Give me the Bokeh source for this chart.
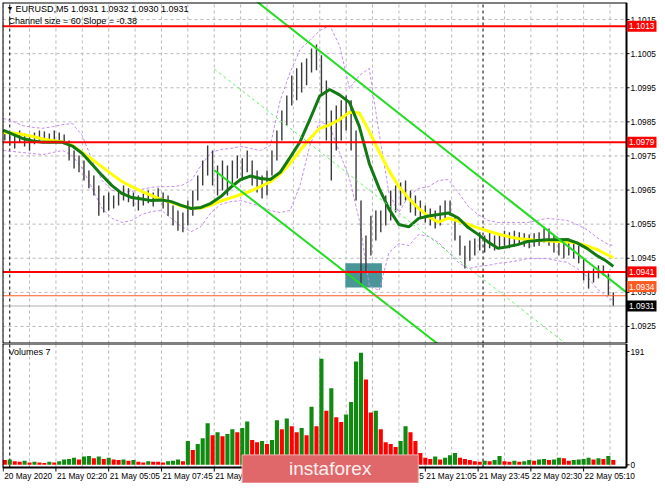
from bokeh.plotting import figure
from bokeh.layouts import column
from bokeh.models import Range1d, Label
from bokeh.core.properties import value
from bokeh.embed import file_html
from bokeh.resources import INLINE

FONT = "Liberation Sans"

# ---------------- data ----------------
bar_idx = list(range(1, 372, 3))  # one entry per 3 five-minute bars
highs = [1.09825, 1.09819, 1.09810, 1.09825, 1.09816, 1.09807, 1.09819, 1.09825, 1.09822, 1.09816, 1.09825, 1.09819, 1.09813,
         1.09795, 1.09766, 1.09751, 1.09737, 1.09707, 1.09693, 1.09663,
         1.09634, 1.09643, 1.09634, 1.09649, 1.09663, 1.09655, 1.09643, 1.09634, 1.09640, 1.09649, 1.09643, 1.09655, 1.09643, 1.09634,
         1.09605, 1.09590, 1.09584, 1.09619, 1.09649, 1.09693, 1.09737, 1.09781, 1.09766,
         1.09722, 1.09737, 1.09722, 1.09737, 1.09751, 1.09743, 1.09766, 1.09737, 1.09707, 1.09693, 1.09707,
         1.09766, 1.09825, 1.09883, 1.09927, 1.09986, 1.10007, 1.10024, 1.10036, 1.10065, 1.10077,
         1.10045, 1.09971, 1.09883, 1.09898, 1.09913, 1.09927, 1.09913, 1.09825, 1.09619,
         1.09517, 1.09575, 1.09590, 1.09590, 1.09634, 1.09649, 1.09663, 1.09672, 1.09678,
         1.09649, 1.09634, 1.09619, 1.09605, 1.09596, 1.09590, 1.09605, 1.09619, 1.09619,
         1.09575, 1.09517, 1.09487, 1.09502, 1.09508, 1.09526, 1.09517, 1.09526, 1.09517,
         1.09523, 1.09531, 1.09526, 1.09531, 1.09526, 1.09523, 1.09520, 1.09523, 1.09526, 1.09537, 1.09537,
         1.09517, 1.09508, 1.09502, 1.09508, 1.09502, 1.09487, 1.09449, 1.09414, 1.09420, 1.09429, 1.09429, 1.09405, 1.09350]
lows = [1.09795, 1.09781, 1.09772, 1.09790, 1.09778, 1.09766, 1.09784, 1.09795, 1.09792, 1.09787, 1.09795, 1.09790, 1.09784,
        1.09737, 1.09713, 1.09702, 1.09678, 1.09655, 1.09634, 1.09575,
        1.09584, 1.09590, 1.09596, 1.09605, 1.09619, 1.09614, 1.09602, 1.09590, 1.09605, 1.09611, 1.09602, 1.09619, 1.09596, 1.09575,
        1.09546, 1.09531, 1.09526, 1.09546, 1.09575, 1.09619, 1.09663, 1.09693, 1.09663,
        1.09634, 1.09649, 1.09634, 1.09663, 1.09684, 1.09678, 1.09702, 1.09663, 1.09643, 1.09625, 1.09634,
        1.09693, 1.09737, 1.09795, 1.09839, 1.09898, 1.09913, 1.09936, 1.09957, 1.09995, 1.10001,
        1.09927, 1.09795, 1.09678, 1.09766, 1.09795, 1.09825, 1.09766, 1.09619, 1.09370,
        1.09408, 1.09458, 1.09502, 1.09526, 1.09546, 1.09561, 1.09584, 1.09605, 1.09619,
        1.09584, 1.09575, 1.09567, 1.09555, 1.09546, 1.09537, 1.09546, 1.09561, 1.09575,
        1.09502, 1.09458, 1.09420, 1.09443, 1.09458, 1.09473, 1.09467, 1.09479, 1.09473,
        1.09479, 1.09487, 1.09479, 1.09484, 1.09490, 1.09484, 1.09479, 1.09484, 1.09487, 1.09496, 1.09487,
        1.09467, 1.09458, 1.09449, 1.09458, 1.09449, 1.09435, 1.09385, 1.09361, 1.09379, 1.09391, 1.09399, 1.09341, 1.09309]
volumes = [8, 9, 6, 5, 7, 4, 5, 4, 3, 5, 4, 6, 9,
           10, 12, 9, 14, 15, 11, 14,
           10, 12, 9, 8, 9, 7, 8, 5, 4, 6, 5, 5, 4, 6,
           7, 9, 6,
           40, 25, 35, 45, 70, 50, 55, 48, 52, 60, 55, 62, 73, 42, 38, 40, 35,
           42, 75, 60, 78, 65, 55, 62, 50, 98, 65,
           179, 91, 129, 80, 72, 85, 106, 174, 189, 144,
           88, 91, 60, 38, 35, 30, 40, 65, 55, 40,
           20, 12, 10, 14, 9, 12, 16, 20, 12, 10, 8, 6, 5, 7, 6, 8,
           15, 6, 5, 7, 5, 6, 8, 7, 9, 10, 8, 9, 12, 11, 7, 8, 9, 10, 12, 9, 11, 10, 15, 8]

ma_idx = list(range(0, 367, 6)) + [370]
ma_yellow = [1.09819, 1.09817, 1.09813, 1.09807, 1.09800, 1.09795, 1.09791, 1.09781, 1.09760, 1.09740,
             1.09718, 1.09696, 1.09675, 1.09660, 1.09646, 1.09634, 1.09622, 1.09614, 1.09603, 1.09596,
             1.09597, 1.09605, 1.09618, 1.09627, 1.09637, 1.09647, 1.09660, 1.09674, 1.09697, 1.09728,
             1.09766, 1.09801, 1.09831, 1.09841, 1.09857, 1.09878, 1.09876, 1.09822, 1.09763, 1.09707,
             1.09660, 1.09625, 1.09596, 1.09572, 1.09556, 1.09568, 1.09559, 1.09549, 1.09539, 1.09530,
             1.09521, 1.09514, 1.09508, 1.09505, 1.09502, 1.09501, 1.09499, 1.09498, 1.09495, 1.09486,
             1.09476, 1.09461, 1.09452]
ma_green = [1.09826, 1.09813, 1.09801, 1.09794, 1.09790, 1.09790, 1.09790, 1.09779, 1.09757, 1.09725,
            1.09693, 1.09663, 1.09640, 1.09628, 1.09624, 1.09619, 1.09621, 1.09616, 1.09605, 1.09596,
            1.09599, 1.09611, 1.09631, 1.09658, 1.09681, 1.09691, 1.09684, 1.09681, 1.09702, 1.09746,
            1.09791, 1.09857, 1.09926, 1.09945, 1.09929, 1.09907, 1.09836, 1.09728, 1.09655, 1.09594,
            1.09549, 1.09542, 1.09567, 1.09574, 1.09578, 1.09583, 1.09568, 1.09540, 1.09520, 1.09498,
            1.09479, 1.09484, 1.09490, 1.09499, 1.09502, 1.09504, 1.09504, 1.09505, 1.09495, 1.09479,
            1.09458, 1.09441, 1.09426]
band_upper = [1.09860, 1.09851, 1.09839, 1.09834, 1.09831, 1.09836, 1.09842, 1.09845, 1.09810, 1.09737,
              1.09678, 1.09649, 1.09643, 1.09646, 1.09652, 1.09658, 1.09660, 1.09660, 1.09663, 1.09678,
              1.09722, 1.09760, 1.09769, 1.09772, 1.09778, 1.09772, 1.09766, 1.09781, 1.09913, 1.09995,
              1.10062, 1.10089, 1.10118, 1.10133, 1.10074, 1.09948, 1.09986, 1.10007, 1.09816, 1.09640,
              1.09584, 1.09634, 1.09655, 1.09660, 1.09678, 1.09681, 1.09643, 1.09602, 1.09578, 1.09561,
              1.09555, 1.09555, 1.09555, 1.09555, 1.09561, 1.09567, 1.09564, 1.09561, 1.09549, 1.09534,
              1.09511, 1.09493, 1.09487]
band_lower = [1.09766, 1.09763, 1.09760, 1.09757, 1.09754, 1.09760, 1.09766, 1.09751, 1.09713, 1.09655,
              1.09596, 1.09567, 1.09555, 1.09561, 1.09578, 1.09587, 1.09590, 1.09567, 1.09543, 1.09528,
              1.09543, 1.09584, 1.09608, 1.09616, 1.09619, 1.09611, 1.09602, 1.09590, 1.09584, 1.09590,
              1.09663, 1.09781, 1.09851, 1.09839, 1.09760, 1.09684, 1.09561, 1.09370, 1.09355, 1.09467,
              1.09493, 1.09487, 1.09520, 1.09514, 1.09496, 1.09467, 1.09438, 1.09420, 1.09426, 1.09429,
              1.09435, 1.09438, 1.09443, 1.09449, 1.09449, 1.09449, 1.09443, 1.09438, 1.09420, 1.09397,
              1.09361, 1.09338, 1.09326]

chan_idx = [128, 378]
chan_upper = [1.10301, 1.09350]
chan_mid = [1.10005, 1.09060]
chan_lower = [1.09708, 1.08769]

levels = [1.1013, 1.0979, 1.0941]
ask_level = 1.0934
bid_level = 1.0931
tag_ask_pos = 1.09367
zone_left, zone_right, zone_top, zone_bottom = 207.5, 229.7, 1.09435, 1.09364

day_sep_idx = [4, 291]
grid_idx = list(range(0, 377, 16))
price_ticks = [1.0925, 1.0935, 1.0945, 1.0955, 1.0965, 1.0975, 1.0985, 1.0995, 1.1005, 1.1015]
vol_ticks = [0, 191]
date_idx = [0, 32, 64, 96, 128, 160, 192, 224, 256, 288, 320, 352]
date_txt = ["20 May 2020", "21 May 02:20", "21 May 05:05", "21 May 07:45", "21 May 10:25", "21 May 13:05",
            "21 May 15:45", "21 May 18:25", "21 May 21:05", "21 May 23:45", "22 May 02:30", "22 May 05:10"]
title_txt = "EURUSD,M5  1.0931 1.0932 1.0930 1.0931"
channel_txt = "Channel size = 60 Slope = -0.38"
vol_txt = "Volumes 7"
logo_txt = "instaforex"

vol_colors = ["#118a11" if (i > 0 and volumes[i] > volumes[i - 1]) else "#ff0000" for i in range(len(volumes))]

# ---------------- layout constants ----------------
W = 657
X0, X1 = -0.4, 378.0            # bar-index span of the chart area
CHART_W = 624                   # px width of chart area
S = CHART_W / (X1 - X0)         # px per bar
X_END = X1 + (W - 2 - CHART_W) / S
GRID_C = "#b8b8b8"
SMALL = "8.3px"
HEAD = "9px"

x_rng = Range1d(X0, X_END)

# ---------------- main price panel ----------------
P_LO, P_HI = 1.0920, 1.1020
H1 = 343
FH1 = H1 - 2
PPX = (P_HI - P_LO) / FH1       # price per px

p1 = figure(width=W, height=H1, x_range=x_rng, y_range=Range1d(P_LO, P_HI),
            output_backend="svg", toolbar_location=None, x_axis_location=None, y_axis_location=None,
            min_border_left=2, min_border_right=0, min_border_top=2, min_border_bottom=0)
p1.outline_line_color = None
p1.grid.visible = False
p1.background_fill_color = "white"
p1.border_fill_color = "white"

# grid
p1.segment(x0=[X0] * len(price_ticks), x1=[X1] * len(price_ticks), y0=price_ticks, y1=price_ticks,
           line_color=GRID_C, line_dash="3 3", line_width=1)
p1.segment(x0=grid_idx, x1=grid_idx, y0=[P_LO] * len(grid_idx), y1=[P_HI] * len(grid_idx),
           line_color=GRID_C, line_dash="3 3", line_width=1)
p1.segment(x0=day_sep_idx, x1=day_sep_idx, y0=[P_LO] * 2, y1=[P_HI] * 2,
           line_color="black", line_dash="3 3", line_width=1)

p1.quad(left=[zone_left], right=[zone_right], top=[zone_top], bottom=[zone_bottom],
        fill_color="#4a9598", line_color=None)

p1.line(ma_idx, band_upper, line_color="#c58cf0", line_dash="3 2", line_width=1)
p1.line(ma_idx, band_lower, line_color="#c58cf0", line_dash="3 2", line_width=1)

p1.segment(x0=bar_idx, y0=lows, x1=bar_idx, y1=highs, line_color="#3a3a3a", line_width=1.4)

p1.line(ma_idx, ma_yellow, line_color="#ffff00", line_width=3)
p1.line(ma_idx, ma_green, line_color="#137a13", line_width=3)

p1.line(chan_idx, chan_upper, line_color="#22dd22", line_width=2)
p1.line(chan_idx, chan_lower, line_color="#22dd22", line_width=2)
p1.line(chan_idx, chan_mid, line_color="#66ee66", line_width=1, line_dash="3 3")

p1.segment(x0=[X0] * 3, x1=[X1] * 3, y0=levels, y1=levels, line_color="#ff0000", line_width=2)
p1.segment(x0=[X0], x1=[X1], y0=[ask_level], y1=[ask_level], line_color="#ff5a20", line_width=1)
p1.segment(x0=[X0], x1=[X1], y0=[bid_level], y1=[bid_level], line_color="#b0b0b0", line_width=1)

# chart border + right price scale
p1.segment(x0=[X0, X0, X0, X1], x1=[X1, X1, X0, X1], y0=[P_HI, P_LO, P_LO, P_LO], y1=[P_HI, P_LO, P_HI, P_HI],
           line_color="black", line_width=2)
p1.segment(x0=[X1] * len(price_ticks), x1=[X1 + 3 / S] * len(price_ticks), y0=price_ticks, y1=price_ticks,
           line_color="black", line_width=1)
p1.text(x=[X1 + 4 / S] * len(price_ticks), y=price_ticks, text=["%.4f" % t for t in price_ticks],
        text_font=value(FONT), text_font_size=SMALL, text_color="black",
        text_align="left", text_baseline="middle")

# price tags
tag_y = levels + [tag_ask_pos, bid_level]
tag_txt = ["%.4f" % v for v in levels + [ask_level, bid_level]]
tag_col = ["#ff0000"] * 3 + ["#ff5a20", "#000000"]
p1.quad(left=[X1 + 0.5 / S] * 5, right=[X1 + 30 / S] * 5,
        top=[v + 5.5 * PPX for v in tag_y], bottom=[v - 5.5 * PPX for v in tag_y],
        fill_color=tag_col, line_color=None)
p1.text(x=[X1 + 2.5 / S] * 5, y=tag_y, text=tag_txt, text_font=value(FONT), text_font_size=SMALL,
        text_color="white", text_align="left", text_baseline="middle")

p1.add_layout(Label(x=4, y=FH1 - 6, x_units="screen", y_units="screen", text="\u25bc",
                    text_font=FONT, text_font_size="7px", text_color="black", text_baseline="middle"))
p1.add_layout(Label(x=13, y=FH1 - 6, x_units="screen", y_units="screen", text=title_txt,
                    text_font=FONT, text_font_size=HEAD, text_color="black", text_baseline="middle"))
p1.add_layout(Label(x=6, y=FH1 - 18, x_units="screen", y_units="screen", text=channel_txt,
                    text_font=FONT, text_font_size=HEAD, text_color="black", text_baseline="middle"))

# ---------------- volume panel ----------------
H2 = 140
V_LO, V_HI = -4.5, 204.5
CH2 = 124                         # px height of volume chart area
VPX = (V_HI - V_LO) / CH2         # volume units per px
V_BOT = V_LO - (H2 - CH2) * VPX

p2 = figure(width=W, height=H2, x_range=x_rng, y_range=Range1d(V_BOT, V_HI),
            output_backend="svg", toolbar_location=None, x_axis_location=None, y_axis_location=None,
            min_border_left=2, min_border_right=0, min_border_top=0, min_border_bottom=0)
p2.outline_line_color = None
p2.grid.visible = False
p2.background_fill_color = "white"
p2.border_fill_color = "white"

p2.segment(x0=grid_idx, x1=grid_idx, y0=[V_LO] * len(grid_idx), y1=[V_HI] * len(grid_idx),
           line_color=GRID_C, line_dash="3 3", line_width=1)
p2.segment(x0=day_sep_idx, x1=day_sep_idx, y0=[V_LO] * 2, y1=[V_HI] * 2,
           line_color="black", line_dash="3 3", line_width=1)

p2.vbar(x=bar_idx, top=volumes, bottom=0, width=2.5, fill_color=vol_colors, line_color=None)

p2.segment(x0=[X0, X0, X0, X1], x1=[X1, X1, X0, X1], y0=[V_HI, V_LO, V_LO, V_LO], y1=[V_HI, V_LO, V_HI, V_HI],
           line_color="black", line_width=2)
p2.segment(x0=[X1] * 2, x1=[X1 + 3 / S] * 2, y0=vol_ticks, y1=vol_ticks, line_color="black", line_width=1)
p2.text(x=[X1 + 4 / S] * 2, y=vol_ticks, text=[str(v) for v in vol_ticks], text_font=value(FONT),
        text_font_size=SMALL, text_color="black", text_align="left", text_baseline="middle")

p2.segment(x0=date_idx, x1=date_idx, y0=[V_LO] * len(date_idx), y1=[V_LO - 4 * VPX] * len(date_idx),
           line_color="black", line_width=1)
p2.text(x=[d + 1 / S for d in date_idx], y=[V_LO - 3 * VPX] * len(date_idx), text=date_txt,
        text_font=value(FONT), text_font_size=SMALL, text_color="black", text_align="left", text_baseline="top")

p2.add_layout(Label(x=6, y=H2 - 8, x_units="screen", y_units="screen", text=vol_txt,
                    text_font=FONT, text_font_size=HEAD, text_color="black", text_baseline="middle"))

# watermark logo
LOGO_L, LOGO_R = X0 + 239.6 / S, X0 + 415.8 / S
LOGO_T, LOGO_B = V_LO + 12.6 * VPX, V_LO - 15.5 * VPX
p2.quad(left=[LOGO_L], right=[LOGO_R], top=[LOGO_T], bottom=[LOGO_B],
        fill_color="#e0686a", line_color="#f2b0b0", line_width=1)
p2.text(x=[(LOGO_L + LOGO_R) / 2], y=[(LOGO_T + LOGO_B) / 2], text=[logo_txt], text_font=value(FONT),
        text_font_size="19px", text_color="#fff0f0", text_align="center", text_baseline="middle")

layout = column(p1, p2, spacing=0)
open("out.html", "w").write(file_html(layout, INLINE))
